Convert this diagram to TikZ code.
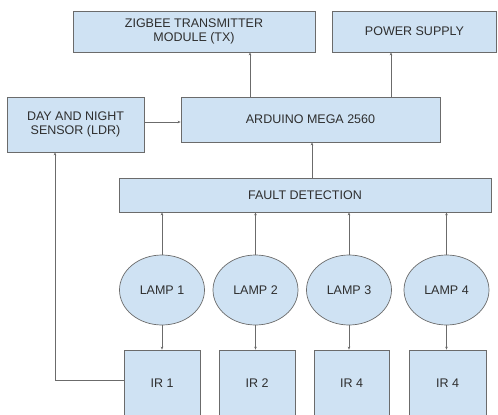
\documentclass[tikz,border=0pt]{standalone}
\usepackage{fontspec}
\setmainfont{Liberation Sans}
\usetikzlibrary{arrows.meta,shapes.geometric}
\definecolor{boxfill}{HTML}{CFE2F3}
\definecolor{boxline}{HTML}{6B6B6B}
\definecolor{txt}{HTML}{2E2E2E}
\begin{document}
\begin{tikzpicture}[x=1pt,y=-1pt,
  blk/.style={draw=boxline,fill=boxfill,line width=0.7pt,inner sep=0pt,text=txt,font=\fontsize{12.5}{14}\selectfont,align=center},
  lamp/.style={draw=boxline,fill=boxfill,line width=0.7pt,ellipse,inner sep=0pt,minimum width=85pt,minimum height=70pt,text=txt,font=\fontsize{12.5}{14}\selectfont},
  conn/.style={draw=boxline,line width=0.6pt,-{Stealth[length=3pt,width=2.5pt]}}]
\useasboundingbox (0,0) rectangle (498,415);
\fill[white] (0,0) rectangle (498,415);
% boxes
\node[blk,minimum width=242pt,minimum height=41pt] (zig) at (194,31.5) {ZIGBEE TRANSMITTER\\MODULE (TX)};
\node[blk,minimum width=164pt,minimum height=41pt] (pwr) at (414.5,31.5) {POWER SUPPLY};
\node[blk,minimum width=137pt,minimum height=55pt] (ldr) at (75.5,124.5) {DAY AND NIGHT\\SENSOR (LDR)};
\node[blk,minimum width=259pt,minimum height=45pt] (ard) at (310.5,119.5) {ARDUINO MEGA 2560};
\node[blk,minimum width=372pt,minimum height=34pt] (fd) at (305,195) {FAULT DETECTION};
\node[lamp] (l1) at (162,290) {LAMP 1};
\node[lamp] (l2) at (255.5,290) {LAMP 2};
\node[lamp] (l3) at (349,290) {LAMP 3};
\node[lamp] (l4) at (446.5,290) {LAMP 4};
\node[blk,minimum width=76pt,minimum height=66pt] (ir1) at (162,383) {IR 1};
\node[blk,minimum width=76pt,minimum height=66pt] (ir2) at (257,383) {IR 2};
\node[blk,minimum width=75pt,minimum height=66pt] (ir3) at (351.5,383) {IR 4};
\node[blk,minimum width=77pt,minimum height=66pt] (ir4) at (447.5,383) {IR 4};
% connectors
\draw[conn] (250,97) coordinate (a1) -- (a1 |- zig.south);
\draw[conn] (391,97) coordinate (a2) -- (a2 |- pwr.south);
\draw[conn] (ldr.east |- 0,122) coordinate (a3) -- (a3 -| ard.west);
\draw[conn] (312,178) coordinate (a4) -- (a4 |- ard.south);
\draw[conn] (l1.north) -- (l1.north |- fd.south);
\draw[conn] (l2.north) -- (l2.north |- fd.south);
\draw[conn] (l3.north) -- (l3.north |- fd.south);
\draw[conn] (l4.north) -- (l4.north |- fd.south);
\draw[conn] (l1.south) -- (l1.south |- ir1.north);
\draw[conn] (l2.south) -- (l2.south |- ir2.north);
\draw[conn] (l3.south) -- (l3.south |- ir3.north);
\draw[conn] (l4.south) -- (l4.south |- ir4.north);
\coordinate (c1) at (55,380);
\draw[conn] (ir1.west |- c1) -- (c1) -- (c1 |- ldr.south);
\end{tikzpicture}
\end{document}
